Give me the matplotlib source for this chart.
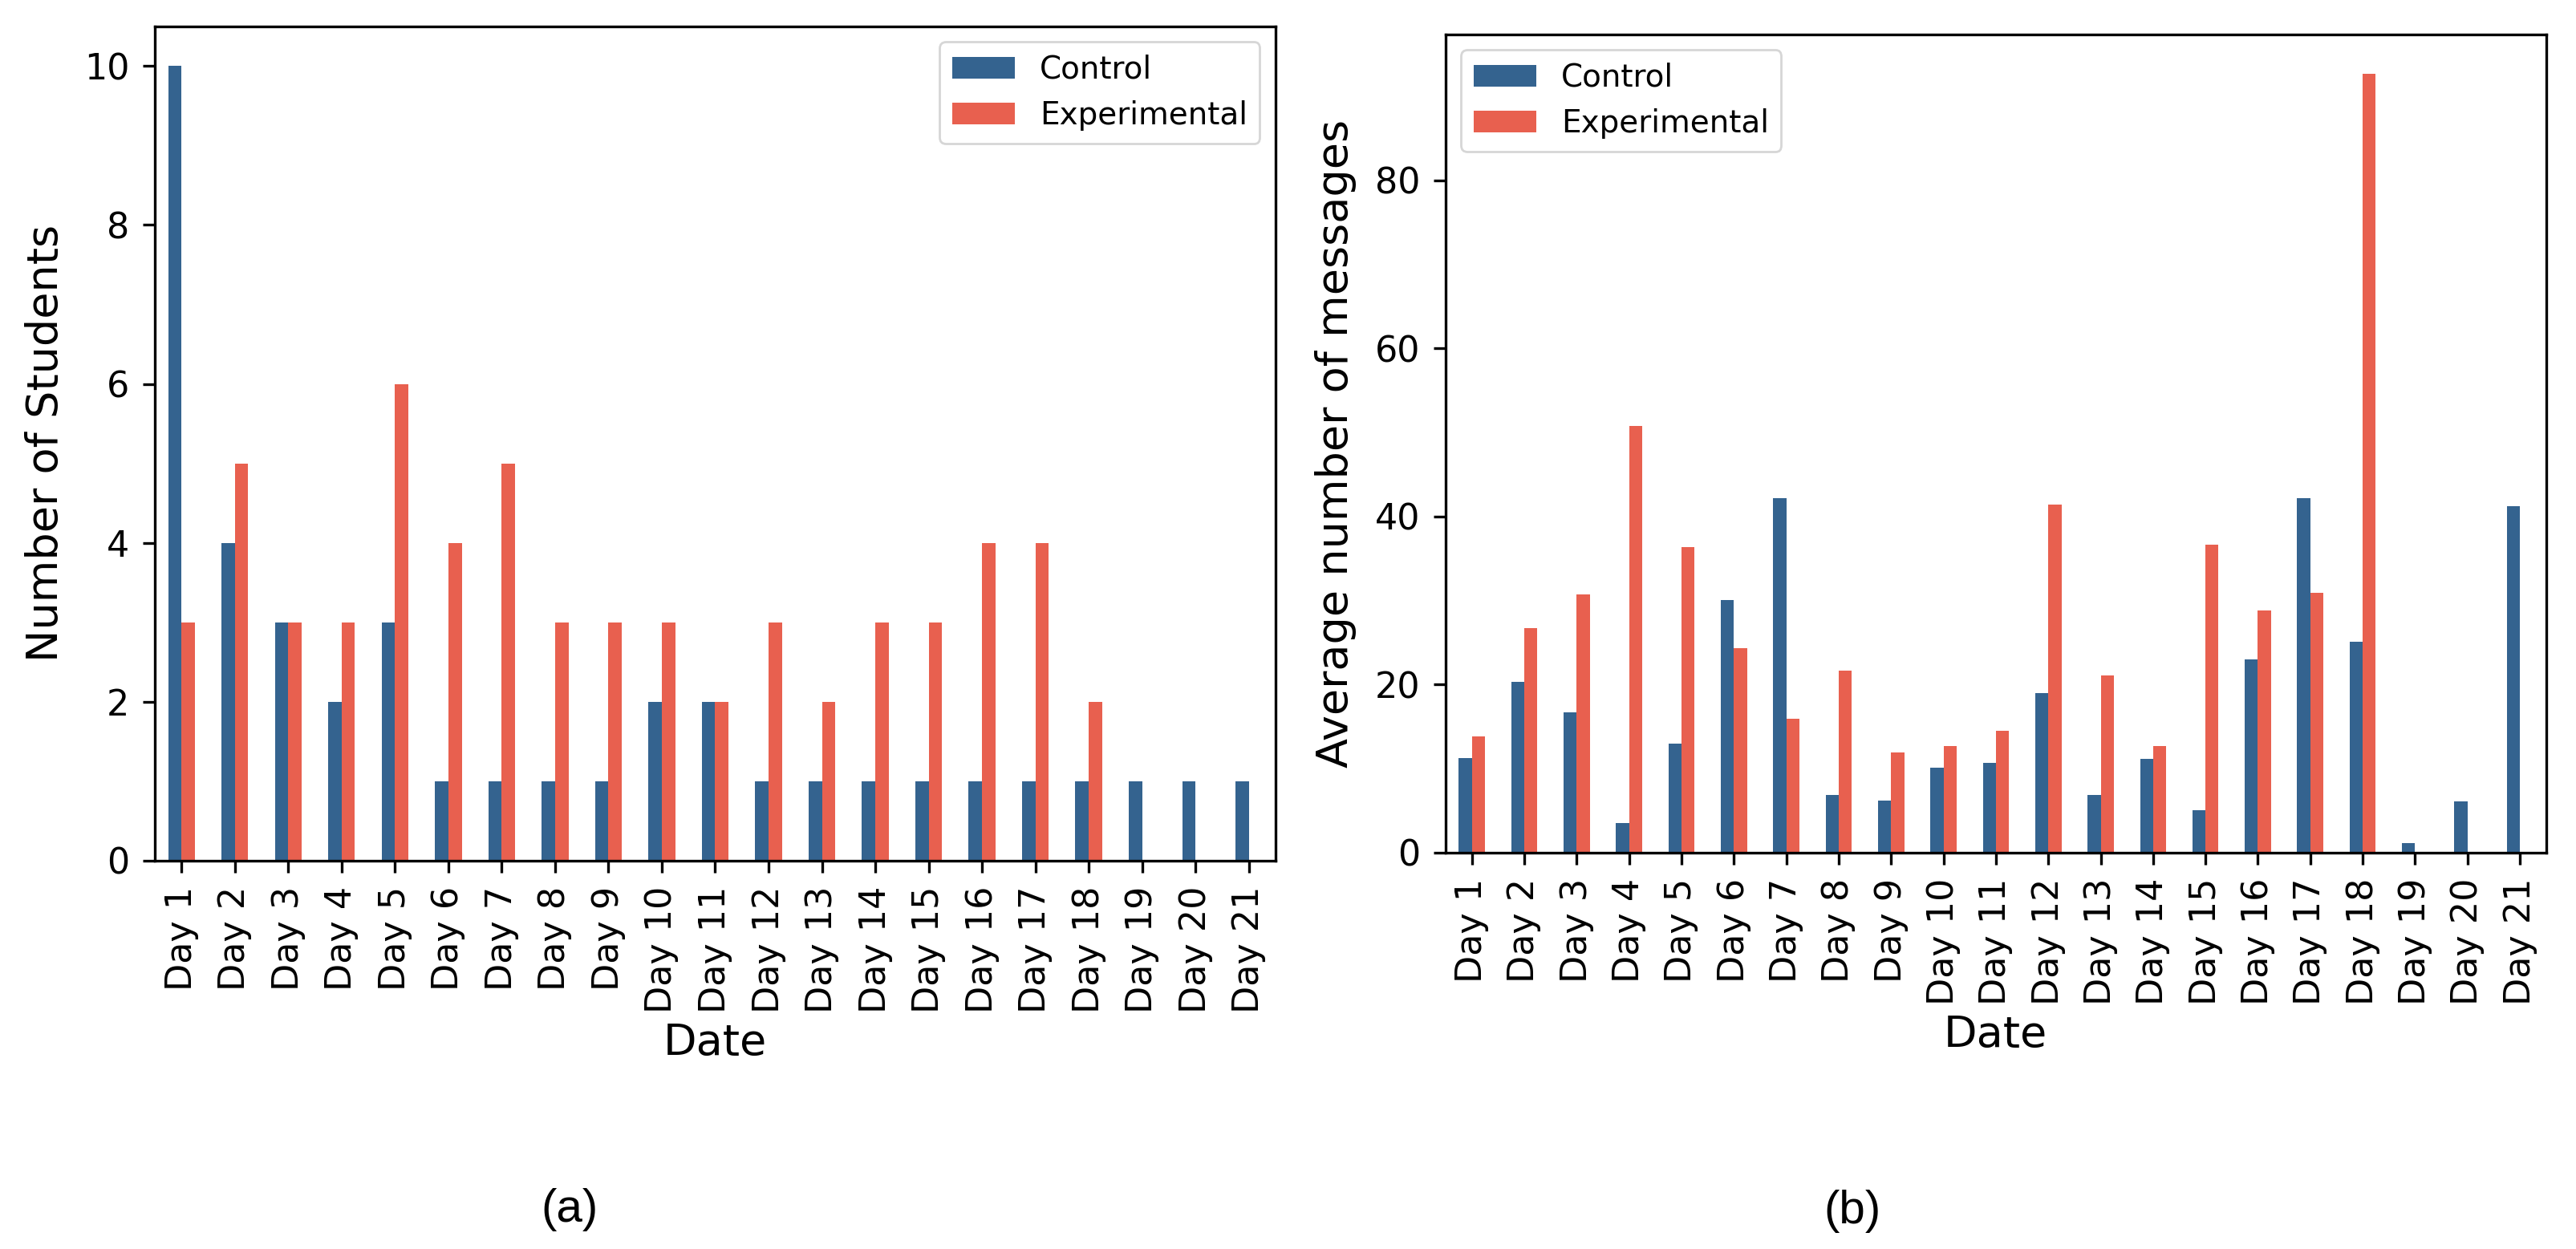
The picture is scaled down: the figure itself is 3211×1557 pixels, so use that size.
import matplotlib
matplotlib.use("Agg")
import matplotlib.pyplot as plt
import numpy as np

days = [f"Day {i}" for i in range(1, 22)]
students_control = [10, 4, 3, 2, 3, 1, 1, 1, 1, 2, 2, 1, 1, 1, 1, 1, 1, 1, 1, 1, 1]
students_experimental = [3, 5, 3, 3, 6, 4, 5, 3, 3, 3, 2, 3, 2, 3, 3, 4, 4, 2, 0, 0, 0]
msgs_control = [11.3, 20.3, 16.7, 3.5, 13.0, 30.1, 42.2, 6.9, 6.2, 10.1, 10.7, 19.0,
                6.9, 11.2, 5.1, 23.0, 42.2, 25.1, 1.1, 6.1, 41.2]
msgs_experimental = [13.8, 26.7, 30.7, 50.8, 36.4, 24.3, 15.9, 21.7, 11.9, 12.7, 14.5, 41.4,
                     21.1, 12.7, 36.6, 28.8, 30.9, 92.7, 0, 0, 0]
series_names = ["Control", "Experimental"]
colors = ["#34638f", "#e8604f"]

plt.rcParams['font.family'] = ['DejaVu Sans']

fig = plt.figure(figsize=(16.06, 7.785), dpi=200)
ax1 = fig.add_axes([0.0601, 0.3109, 0.4349, 0.6680])
ax2 = fig.add_axes([0.5610, 0.3173, 0.4271, 0.6551])

def draw(ax, c, e, ylabel, legend_loc):
    x = np.arange(len(days))
    w = 0.25
    ax.bar(x - w / 2, c, width=w, color=colors[0], label=series_names[0])
    ax.bar(x + w / 2, e, width=w, color=colors[1], label=series_names[1])
    ax.set_xlim(-0.5, len(days) - 0.5)
    ax.set_xticks(x)
    ax.set_xticklabels(days, rotation=90)
    ax.tick_params(axis='both', labelsize=16, length=5.4, width=1.2, pad=6)
    ax.set_xlabel("Date", fontsize=19.5, labelpad=4)
    ax.set_ylabel(ylabel, fontsize=19.5, labelpad=8)
    for s in ax.spines.values():
        s.set_linewidth(1.2)
    ax.legend(loc=legend_loc, fontsize=14)

draw(ax1, students_control, students_experimental, "Number of Students", "upper right")
draw(ax2, msgs_control, msgs_experimental, "Average number of messages", "upper left")

fig.text(0.221, 1 - 1508 / 1557, "(a)", fontsize=21, family="Liberation Sans",
         ha="center", va="center")
fig.text(0.7189, 1 - 1510 / 1557, "(b)", fontsize=21, family="Liberation Sans",
         ha="center", va="center")

fig.savefig("out.png", dpi=200)
